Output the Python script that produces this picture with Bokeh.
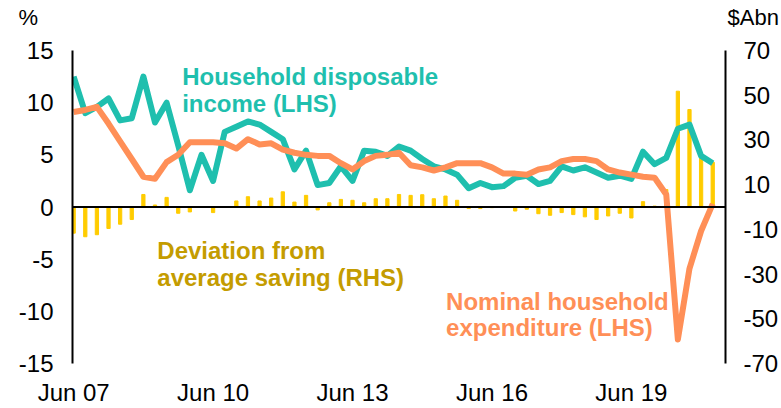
from bokeh.plotting import figure
from bokeh.models import Range1d, LinearAxis, FixedTicker, Label, Span
from bokeh.layouts import column
from bokeh.core.properties import value
from bokeh.embed import file_html
from bokeh.resources import INLINE

# Quarterly, Jun 2007 .. Mar 2021 (index 0 = Jun 07)
tick_positions = [0, 12, 24, 36, 48]
tick_labels = ["Jun 07", "Jun 10", "Jun 13", "Jun 16", "Jun 19"]
lhs_ticks = [-15, -10, -5, 0, 5, 10, 15]
rhs_ticks = [-70, -50, -30, -10, 10, 30, 50, 70]
unit_labels = ["%", "$Abn"]

income = [12.5, 9.0, 9.6, 10.4, 8.3, 8.5, 12.5, 8.1, 10.0, 5.9,
          1.6, 5.0, 2.5, 7.2, 7.7, 8.2, 7.9, 7.2, 6.5, 3.6,
          5.4, 2.1, 2.3, 3.9, 2.5, 5.4, 5.3, 4.9, 5.8, 5.4,
          4.6, 3.9, 3.6, 3.1, 1.8, 2.3, 1.9, 2.0, 2.8, 3.0,
          2.2, 2.5, 3.9, 3.5, 3.8, 3.3, 2.8, 3.0, 2.7, 5.3,
          4.1, 4.7, 7.5, 7.9, 4.9, 4.2]

expenditure = [9.1, 9.3, 9.6, 8.0, 6.3, 4.6, 2.9, 2.7, 4.3, 5.0,
               6.2, 6.2, 6.2, 6.1, 5.6, 6.5, 6.0, 6.1, 5.5, 5.2,
               5.0, 4.9, 4.9, 4.2, 3.6, 4.4, 4.9, 5.0, 5.2, 4.0,
               3.8, 3.5, 3.8, 4.2, 4.2, 4.2, 3.8, 3.2, 3.2, 3.1,
               3.6, 3.8, 4.4, 4.6, 4.6, 4.4, 3.6, 3.3, 3.1, 2.9,
               2.8, 1.2, -12.7, -5.9, -2.3, 0.3]

saving_dev = [-11.7, -13.3, -12.4, -9.6, -7.7, -5.6, 5.6, 0.9, 4.3, -2.8,
              -2.2, 0.0, -2.5, 0.0, 2.7, 4.6, 2.7, 4.0, 6.8, 2.2,
              5.2, -1.3, 1.9, 3.4, 3.0, 1.9, 3.7, 3.7, 5.6, 5.2,
              5.5, 3.7, 4.9, 3.0, -0.7, -0.7, -0.3, -0.2, -1.8, -1.0,
              -3.0, -3.7, -2.5, -3.4, -4.4, -5.6, -4.0, -2.8, -4.9, 2.4,
              0.4, 7.8, 51.8, 43.6, 22.5, 20.0]

quarters = list(range(len(income)))

TEAL = "#1FBFAE"
ORANGE = "#FF8F57"
BAR = "#FFCC00"
GOLD = "#C49C00"
FONT = "Liberation Sans"

W = 781
TOP_H = 34

# ---- top strip carrying the axis unit labels ----
ph = figure(width=W, height=TOP_H, output_backend="svg", toolbar_location=None,
            x_range=Range1d(0, W), y_range=Range1d(TOP_H, 0),
            min_border=0, min_border_left=0, min_border_right=0,
            min_border_top=0, min_border_bottom=0,
            x_axis_location=None, y_axis_location=None)
ph.frame_align = False
ph.outline_line_color = None
ph.grid.visible = False
ph.text(x=[18, 727], y=[17.4, 17.4], text=unit_labels,
        text_font=value(FONT), text_font_size="22px", text_color="black",
        text_baseline="middle", text_align="left")

# ---- main chart ----
p = figure(width=W, height=408 - TOP_H, output_backend="svg",
           toolbar_location=None,
           x_range=Range1d(-0.1, 56.1), y_range=Range1d(-15, 15),
           min_border_left=72, min_border_right=53,
           min_border_top=50 - TOP_H, min_border_bottom=42,
           x_axis_location="below")
p.frame_align = False
p.extra_y_ranges = {"rhs": Range1d(-70, 70)}
p.outline_line_color = None
p.grid.visible = False
p.background_fill_color = "white"


def style_axis(ax, standoff):
    ax.major_tick_line_color = None
    ax.minor_tick_line_color = None
    ax.major_tick_in = 0
    ax.major_tick_out = 0
    ax.major_label_standoff = standoff
    ax.major_label_text_font = FONT
    ax.major_label_text_font_size = "24px"
    ax.major_label_text_color = "black"


xa = p.xaxis[0]
xa.ticker = FixedTicker(ticks=tick_positions)
xa.major_label_overrides = {t: l for t, l in zip(tick_positions, tick_labels)}
xa.axis_line_color = None
style_axis(xa, 15)

ya = p.yaxis[0]
ya.ticker = FixedTicker(ticks=lhs_ticks)
ya.major_label_overrides = {t: str(t) for t in lhs_ticks}
ya.axis_line_width = 2
ya.axis_line_color = "black"
style_axis(ya, 19)

ra = LinearAxis(y_range_name="rhs", ticker=FixedTicker(ticks=rhs_ticks))
ra.major_label_overrides = {t: str(t) for t in rhs_ticks}
ra.axis_line_width = 2
ra.axis_line_color = "black"
style_axis(ra, 18)
p.add_layout(ra, "right")

# bars (RHS)
p.vbar(x=quarters, top=saving_dev, bottom=0, width=0.28, color=BAR,
       y_range_name="rhs")

# zero line
p.add_layout(Span(location=0, dimension="width", line_color="black",
                  line_width=2))

# lines (LHS)
p.line(quarters, income, line_color=TEAL, line_width=6, line_join="round")
p.line(quarters, expenditure, line_color=ORANGE, line_width=6,
       line_join="round")


def lab(x, y, text, color):
    p.add_layout(Label(x=x, y=y, text=text, text_color=color,
                       text_font=FONT, text_font_size="24px",
                       text_font_style="bold",
                       text_baseline="alphabetic", text_align="left"))


lab(9.34, 12.54, "Household disposable", TEAL)
lab(9.34, 9.93, "income (LHS)", TEAL)
lab(7.2, -4.18, "Deviation from", GOLD)
lab(7.2, -6.74, "average saving (RHS)", GOLD)
lab(32.05, -9.02, "Nominal household", ORANGE)
lab(32.05, -11.59, "expenditure (LHS)", ORANGE)

layout = column(ph, p, spacing=0)
open("out.html", "w").write(file_html(layout, INLINE))
